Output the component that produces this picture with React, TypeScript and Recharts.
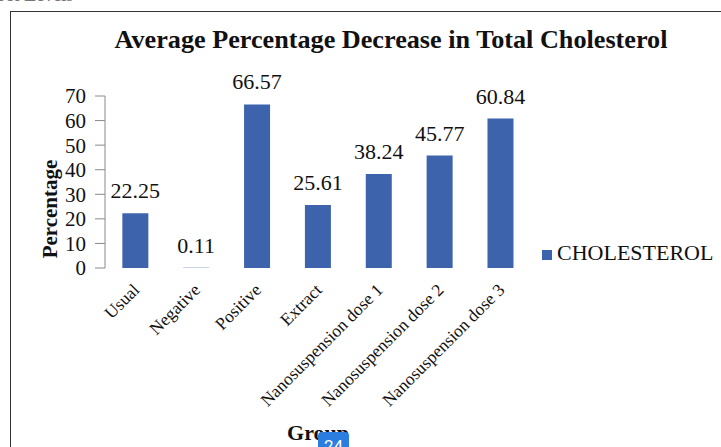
import React from 'react';
import { BarChart, Bar, XAxis, YAxis, LabelList, Legend, Label } from 'recharts';

const categories = ['Usual', 'Negative', 'Positive', 'Extract', 'Nanosuspension dose 1', 'Nanosuspension dose 2', 'Nanosuspension dose 3'];
const cholesterol = [22.25, 0.11, 66.57, 25.61, 38.24, 45.77, 60.84];
const yTicks = [0, 10, 20, 30, 40, 50, 60, 70];
const boundaryTicks = [0, 1, 2, 3, 4, 5, 6, 7];

const data = categories.map((name, i) => ({ name, CHOLESTEROL: cholesterol[i] }));

const SERIF = '"Liberation Serif", "Times New Roman", serif';
const BAR_COLOR = '#3C63AC';
const AXIS_COLOR = '#8a8a8a';

const CatTick = (props: any) => {
  const { x, y, payload } = props;
  return (
    <g transform={`translate(${x + 5},${y + 23})`}>
      <text x={0} y={0} transform="rotate(-45)" textAnchor="end" fontFamily={SERIF} fontSize={17.5} fill="#111">
        {payload.value}
      </text>
    </g>
  );
};

const LegendContent = () => (
  <div style={{ display: 'flex', alignItems: 'center', fontFamily: SERIF, fontSize: 22, color: '#111', whiteSpace: 'nowrap' }}>
    <span style={{ display: 'inline-block', width: 10, height: 10, background: BAR_COLOR, marginRight: 5, marginTop: 3 }} />
    <span>CHOLESTEROL</span>
  </div>
);

export default function App() {
  return (
    <div style={{ position: 'absolute', left: 0, top: 0, width: 721, height: 447, overflow: 'hidden', background: '#fff' }}>
      <div style={{ position: 'absolute', left: -2, top: -15, fontFamily: SERIF, fontWeight: 'bold', fontSize: 18, lineHeight: '20px', color: '#777', whiteSpace: 'nowrap' }}>
        rol Levels
      </div>
      <div style={{ position: 'absolute', left: 10, top: 11, width: 800, height: 600, borderLeft: '1px solid #333', borderTop: '1px solid #333' }} />
      <div style={{ position: 'absolute', left: 0, top: 27, width: 782, textAlign: 'center', fontFamily: SERIF, fontWeight: 'bold', fontSize: 26.2, lineHeight: '26px', color: '#111', whiteSpace: 'nowrap' }}>
        Average Percentage Decrease in Total Cholesterol
      </div>
      <div style={{ position: 'absolute', left: 0, top: 0 }}>
        <BarChart width={721} height={447} data={data} margin={{ top: 96, right: 190, left: 0, bottom: 29 }} barCategoryGap="28.5%">
          <XAxis
            xAxisId="grid"
            type="number"
            domain={[0, 7]}
            allowDataOverflow
            ticks={boundaryTicks}
            tick={false}
            height={0}
            tickSize={8}
            stroke={AXIS_COLOR}
            axisLine={{ stroke: AXIS_COLOR }}
            tickLine={{ stroke: AXIS_COLOR }}
          />
          <XAxis
            xAxisId="cat"
            dataKey="name"
            type="category"
            height={150}
            interval={0}
            axisLine={false}
            tickLine={false}
            tickSize={0}
            tickMargin={0}
            tick={<CatTick />}
          >
            <Label
              content={(p: any) => {
                const vb = p.viewBox || {};
                return (
                  <text x={vb.x + vb.width / 2} y={440} textAnchor="middle" fontFamily={SERIF} fontWeight="bold" fontSize={22} fill="#111">
                    Group
                  </text>
                );
              }}
            />
          </XAxis>
          <YAxis
            domain={[0, 70]}
            ticks={yTicks}
            width={105}
            tickSize={10}
            tickMargin={9}
            interval={0}
            axisLine={{ stroke: AXIS_COLOR }}
            tickLine={{ stroke: AXIS_COLOR }}
            tick={{ fontFamily: SERIF, fontSize: 21, fill: '#111' }}
          >
            <Label
              content={() => (
                <text transform="translate(57,209) rotate(-90)" x={0} y={0} textAnchor="middle" fontFamily={SERIF} fontWeight="bold" fontSize={21} fill="#111">
                  Percentage
                </text>
              )}
            />
          </YAxis>
          <Legend
            layout="horizontal"
            verticalAlign="middle"
            align="center"
            content={<LegendContent />}
            wrapperStyle={{ left: 542, top: 240, width: 180 }}
          />
          <Bar xAxisId="cat" dataKey="CHOLESTEROL" fill={BAR_COLOR} isAnimationActive={false}>
            <LabelList
              dataKey="CHOLESTEROL"
              position="top"
              offset={15}
              formatter={(v: any) => Number(v).toFixed(2)}
              style={{ fontFamily: SERIF, fontSize: 22, fill: '#111' }}
            />
          </Bar>
        </BarChart>
      </div>
      <div style={{ position: 'absolute', left: 318, top: 432, width: 31, height: 24, background: '#2B7DE0', borderRadius: 4, color: '#fff', fontFamily: 'Roboto, "DejaVu Sans", sans-serif', fontSize: 17, lineHeight: '28px', textAlign: 'center' }}>
        24
      </div>
    </div>
  );
}
